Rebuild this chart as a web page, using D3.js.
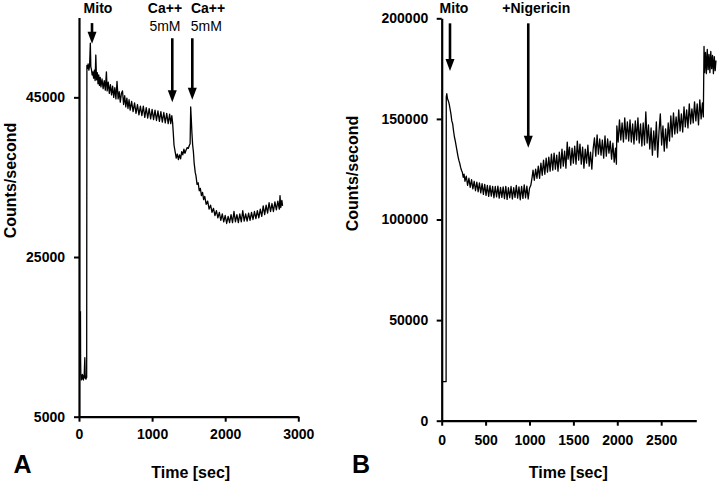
<!DOCTYPE html>
<html><head><meta charset="utf-8">
<script src="https://cdn.jsdelivr.net/npm/d3@7"></script>
<style>
body{margin:0;background:#fff}
svg{display:block}
text{font-family:"Liberation Sans",Arial,Helvetica,sans-serif;fill:#000}
</style>
</head><body>
<svg width="720" height="484"></svg>
<script>
// ---------- Panel A data (time in sec, counts/second) ----------
const timeA = [
  20,22,25,30,35,40,45,50,55,60,
  65,70,75,80,83,86,90,95,100,105,
  108,115,125,135,145,155,162,170,180,190,
  200,210,220,230,240,250,260,270,280,290,
  300,315,330,345,360,375,385,400,415,430,
  445,460,475,490,505,520,535,550,565,580,
  595,610,625,640,655,670,685,700,720,740,
  760,780,800,820,840,860,880,900,920,940,
  960,980,1000,1020,1040,1060,1080,1100,1120,1140,
  1160,1180,1200,1220,1240,1255,1270,1280,1290,1300,
  1315,1330,1345,1360,1375,1390,1405,1420,1435,1450,
  1465,1480,1495,1510,1520,1528,1535,1545,1555,1565,
  1575,1590,1600,1615,1630,1645,1660,1675,1690,1705,
  1720,1740,1760,1780,1800,1820,1840,1860,1880,1900,
  1920,1940,1960,1980,2000,2020,2040,2060,2080,2100,
  2120,2140,2160,2180,2200,2220,2240,2260,2280,2300,
  2320,2340,2360,2380,2400,2420,2440,2460,2480,2500,
  2520,2540,2560,2580,2600,2620,2640,2660,2680,2700,
  2720,2740,2750,2760,2775,2785
];
const countsA = [
  18200,12000,10200,9600,10100,9700,10300,9800,10000,9600,
  10200,9900,11200,12400,11000,9800,10100,9700,10000,9900,
  49000,48600,49200,48400,49000,51800,48800,48500,47800,48200,
  47400,48400,47100,50300,47200,48100,46700,47800,46500,47500,
  46300,47300,46100,47100,45900,48200,45800,46900,45500,46600,
  45300,46400,45000,46200,44800,47000,44800,45700,44400,45500,
  45800,44100,45200,43800,44900,43600,44700,43400,44500,43200,
  44300,43000,44100,42800,43900,42700,43900,42500,43700,42400,
  43600,42300,43500,42200,43400,42100,43300,42000,43200,41900,
  43100,41800,43000,41700,42900,41700,42700,41900,40500,39000,
  38200,37400,37900,37200,37800,37300,38200,37800,38500,38000,
  38400,38700,38600,39000,39200,43800,42500,40500,39000,38200,
  36800,35600,35200,34100,34300,33300,33600,32700,33100,32200,
  32600,31600,32000,31000,31500,30600,31100,30200,30800,29900,
  30600,29600,30400,29400,30200,29200,30100,29300,30300,29300,
  30700,29400,30300,29300,30400,29400,30800,29500,30400,29500,
  30500,29600,30600,29700,30700,29800,30800,29900,31000,30100,
  31400,30300,31500,30500,31800,30700,31700,30700,31900,30900,
  32000,31000,32700,31200,32100,31400
];
const xTicksA = [0,1000,2000,3000];
const yTicksA = [5000,25000,45000];
const arrowsA = [ {t:178, top:54300, tip:51700}, {t:1276, top:52400, tip:44400}, {t:1550, top:52400, tip:44700} ];
const labelsA = [
  {t:260,  v:55520, text:"Mito", bold:true},
  {t:1176, v:55520, text:"Ca++", bold:true},
  {t:1176, v:53300, text:"5mM",  bold:false},
  {t:1765, v:55520, text:"Ca++", bold:true},
  {t:1741, v:53300, text:"5mM",  bold:false}
];

// ---------- Panel B data ----------
const timeB = [
  0,50,52,58,66,75,85,95,105,115,
  125,135,145,155,165,175,185,195,205,215,
  225,235,245,255,265,280,295,310,325,340,
  355,370,385,400,415,430,445,460,475,490,
  505,520,535,550,565,580,595,610,625,640,
  655,670,685,700,715,730,745,760,775,790,
  805,820,835,850,865,880,895,910,925,940,
  955,970,985,1000,1015,1030,1040,1055,1070,1085,
  1100,1115,1130,1145,1160,1175,1190,1205,1220,1235,
  1250,1265,1280,1295,1310,1325,1340,1355,1370,1385,
  1400,1415,1430,1440,1455,1470,1485,1500,1515,1530,
  1545,1560,1575,1590,1605,1620,1635,1650,1665,1680,
  1695,1710,1725,1740,1755,1770,1785,1800,1815,1830,
  1845,1860,1875,1890,1905,1920,1935,1950,1965,1980,
  1990,1995,2010,2025,2040,2055,2070,2085,2100,2115,
  2130,2145,2160,2175,2190,2205,2220,2235,2250,2265,
  2280,2295,2310,2325,2340,2355,2370,2385,2400,2415,
  2430,2445,2460,2475,2490,2505,2520,2535,2550,2565,
  2580,2595,2610,2625,2640,2655,2670,2685,2700,2715,
  2730,2745,2760,2775,2790,2805,2820,2835,2850,2865,
  2880,2895,2910,2925,2940,2955,2970,2980,2988,2995,
  3005,3015,3025,3035,3045,3055,3065,3075,3085,3095,
  3105,3115,3124
];
const countsB = [
  19400,19400,161000,162500,160000,159000,157500,155000,152500,149000,
  147500,144000,141000,139000,136500,134000,131500,129500,128000,126000,
  124500,123500,121000,122500,119000,121500,117000,120500,116000,119800,
  115200,119000,114300,118600,113800,118200,113200,117800,112500,117500,
  112000,117000,111500,116800,111600,116500,110800,116400,111200,116600,
  110600,116000,111000,116200,110400,116500,110000,115800,110800,116400,
  110200,115800,111000,117000,110600,116200,109800,116500,110500,117200,
  110800,116600,110200,115500,117000,121000,124500,119500,125000,120500,
  126500,120500,128000,122000,129500,122500,130500,123500,131000,124000,
  132500,124500,133000,125000,132000,124000,133500,125500,135000,126500,
  134000,125500,138500,130000,136000,127000,135500,128000,136500,127500,
  139000,129500,137500,127500,136000,125500,135000,128000,137000,126500,
  133500,125000,135000,140500,131500,142000,132500,140000,132000,139500,
  130500,141500,131500,140000,133000,139000,130000,138000,128500,135500,
  127500,146500,138500,149500,139500,148000,138500,150500,140000,148500,
  139000,149500,138500,147500,137500,149000,139500,150500,138000,147500,
  136500,148000,137000,153500,138000,147000,135000,145500,132000,144000,
  134500,148500,131000,143500,152500,137000,146500,134000,145000,135500,
  148000,139000,151500,141000,153000,142500,151000,143000,154500,144000,
  152500,143500,156000,146000,154500,145500,157500,147500,155000,148000,
  158500,149000,157500,147000,159500,150000,158000,151000,186000,173000,
  183000,172500,184500,174500,182000,173000,183500,175000,181500,172500,
  181000,174000,179000
];
const xTicksB = [0,500,1000,1500,2000,2500];
const yTicksB = [0,50000,100000,150000,200000];
const arrowsB = [ {t:94.5, top:197500, tip:173800}, {t:986, top:197500, tip:135700} ];
const labelsB = [
  {t:140,  v:202500, text:"Mito", bold:true},
  {t:1077, v:202500, text:"+Nigericin", bold:true}
];

const svg = d3.select("svg");

function drawPanel(cfg) {
  const x = d3.scaleLinear().domain(cfg.xDomain).range(cfg.xRange);
  const y = d3.scaleLinear().domain(cfg.yDomain).range(cfg.yRange);
  const g = svg.append("g");

  // trace
  const pts = cfg.times.map((t, i) => [t, cfg.counts[i]]);
  g.append("path")
    .datum(pts)
    .attr("fill", "none")
    .attr("stroke", "#000")
    .attr("stroke-width", 1.3)
    .attr("stroke-linejoin", "round")
    .attr("d", d3.line().x(d => x(d[0])).y(d => y(d[1])));

  // axes
  const xAxis = d3.axisBottom(x).tickValues(cfg.xTicks).tickFormat(d3.format("d"))
    .tickSize(5).tickSizeOuter(0).tickPadding(cfg.xPad);
  const yAxis = d3.axisLeft(y).tickValues(cfg.yTicks).tickFormat(d3.format("d"))
    .tickSize(5).tickSizeOuter(0).tickPadding(cfg.yPad);
  const ax = g.append("g").attr("transform", `translate(0,${cfg.yRange[0]})`).call(xAxis);
  const ay = g.append("g").attr("transform", `translate(${cfg.xRange[0]},0)`).call(yAxis);
  [ax, ay].forEach(a => {
    a.select(".domain").attr("stroke", "#000").attr("stroke-width", 2.2);
    a.selectAll(".tick line").attr("stroke", "#000").attr("stroke-width", 2);
    a.selectAll(".tick text").attr("font-size", 14).attr("font-weight", "bold")
      .attr("font-family", '"Liberation Sans",Arial,sans-serif').attr("fill", "#000");
  });

  // arrows
  cfg.arrows.forEach(a => {
    const ax0 = x(a.t), yTop = y(a.top), yTip = y(a.tip);
    const headL = 12, headW = 4.5;
    g.append("line").attr("x1", ax0).attr("x2", ax0).attr("y1", yTop).attr("y2", yTip - headL + 1)
      .attr("stroke", "#000").attr("stroke-width", 2.6);
    g.append("path")
      .attr("d", `M${ax0 - headW},${yTip - headL} L${ax0 + headW},${yTip - headL} L${ax0},${yTip} Z`)
      .attr("fill", "#000");
  });

  // annotation labels
  cfg.labels.forEach(l => {
    g.append("text").attr("x", x(l.t)).attr("y", y(l.v))
      .attr("text-anchor", "middle").attr("font-size", 14)
      .attr("font-weight", l.bold ? "bold" : "normal").text(l.text);
  });

  // axis titles
  g.append("text").attr("x", cfg.xTitleX).attr("y", 478)
    .attr("text-anchor", "middle").attr("font-size", 16).attr("font-weight", "bold")
    .text("Time [sec]");
  g.append("text")
    .attr("transform", `translate(${cfg.yTitleX},${cfg.yTitleY}) rotate(-90)`)
    .attr("text-anchor", "middle").attr("dominant-baseline", "central")
    .attr("font-size", 16).attr("font-weight", "bold")
    .text("Counts/second");

  // panel letter
  g.append("text").attr("x", cfg.letterX).attr("y", 473)
    .attr("text-anchor", "middle").attr("font-size", 25).attr("font-weight", "bold")
    .text(cfg.letter);
}

drawPanel({
  times: timeA, counts: countsA,
  xDomain: [0, 3000], xRange: [79, 298.3],
  yDomain: [5000, 55000], yRange: [416.7, 17.5],
  xTicks: xTicksA, yTicks: yTicksA, xPad: 7, yPad: 9,
  arrows: arrowsA, labels: labelsA,
  xTitleX: 190.7, yTitleX: 10, yTitleY: 180.5,
  letter: "A", letterX: 22.5
});

drawPanel({
  times: timeB, counts: countsB,
  xDomain: [0, 2900], xRange: [441.7, 696.3],
  yDomain: [0, 200000], yRange: [420.7, 18.3],
  xTicks: xTicksB, yTicks: yTicksB, xPad: 9, yPad: 8.5,
  arrows: arrowsB, labels: labelsB,
  xTitleX: 568.3, yTitleX: 352.5, yTitleY: 173.5,
  letter: "B", letterX: 361
});
</script>
</body></html>
